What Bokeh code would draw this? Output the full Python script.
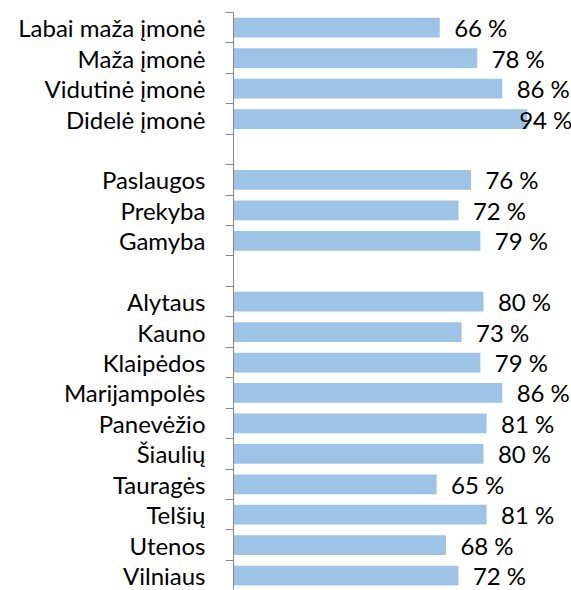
import numpy as np
from bokeh.plotting import figure
from bokeh.models import Range1d, FixedTicker, ColumnDataSource, LinearAxis, CustomJSTickFormatter
from bokeh.core.properties import value
from bokeh.embed import file_html
from bokeh.resources import INLINE

# Data (empty strings mark the blank separator rows)
categories = ["Labai maža įmonė", "Maža įmonė", "Vidutinė įmonė", "Didelė įmonė", "",
              "Paslaugos", "Prekyba", "Gamyba", "",
              "Alytaus", "Kauno", "Klaipėdos", "Marijampolės", "Panevėžio",
              "Šiaulių", "Tauragės", "Telšių", "Utenos", "Vilniaus"]
values = [66, 78, 86, 94, None,
          76, 72, 79, None,
          80, 73, 79, 86, 81, 80, 65, 81, 68, 72]

FONT = "Lato"
FS = "24px"
GRAY = "#868686"

ys = [i for i, c in enumerate(categories) if c]
vals = np.array([v for v in values if v is not None], dtype=float)
labels = [f"{int(v)} %" for v in vals]
XMAX = 108.16
lx = np.minimum(vals + 4.6, 91.4)

src = ColumnDataSource(dict(y=ys, v=vals, lx=lx, lab=labels))

p = figure(width=571, height=590, output_backend="svg", toolbar_location=None,
           x_axis_location=None, y_axis_location=None, x_range=Range1d(0, XMAX),
           y_range=Range1d(start=18.49, end=-0.5),
           min_border_left=233, min_border_right=0, min_border_top=12, min_border_bottom=0)
p.outline_line_color = None
p.grid.visible = False
p.background_fill_color = "white"
p.border_fill_color = "white"

p.hbar(y="y", left=0, right="v", height=0.65, source=src,
       fill_color="#9dc3e6", line_color=None)
p.text(x="lx", y="y", text="lab", source=src, text_font=value(FONT),
       text_font_size=FS, text_color="black", text_align="left",
       text_baseline="middle")

# Axis with tick marks at category boundaries (labels not drawn)
tick_axis = LinearAxis(ticker=FixedTicker(ticks=[i - 0.5 for i in range(len(categories) + 1)]),
                       formatter=CustomJSTickFormatter(code="return ''"),
                       major_tick_out=8, major_tick_in=0, minor_tick_out=0, minor_tick_in=0,
                       major_tick_line_color=GRAY, axis_line_color=GRAY,
                       major_label_text_color=None, major_label_text_font_size="1px",
                       major_label_standoff=0)
p.add_layout(tick_axis, "left")

# Axis carrying the category labels at bar centers (no line, no ticks)
label_axis = LinearAxis(ticker=FixedTicker(ticks=ys),
                        major_label_overrides={i: categories[i] for i in ys},
                        major_tick_out=0, major_tick_in=0, minor_tick_out=0, minor_tick_in=0,
                        axis_line_color=None, major_tick_line_color=None,
                        major_label_standoff=20, major_label_text_font=FONT,
                        major_label_text_font_size=FS, major_label_text_color="black")
p.add_layout(label_axis, "left")

open("out.html", "w").write(file_html(p, INLINE))
